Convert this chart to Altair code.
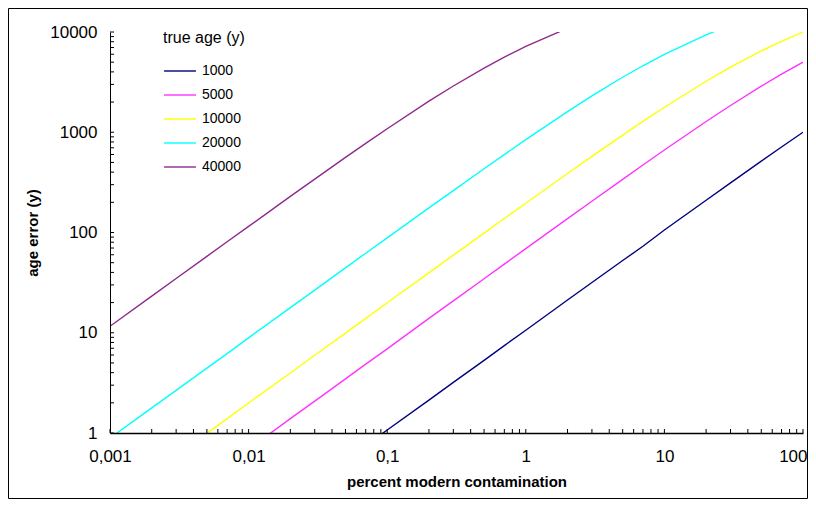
import altair as alt
import pandas as pd

# percent modern contamination (x positions)
pct = [0.0008, 0.001, 0.002, 0.003, 0.005, 0.007, 0.01, 0.02, 0.03, 0.05, 0.07,
       0.1, 0.2, 0.3, 0.5, 0.7, 1, 2, 3, 5, 7, 10, 20, 30, 50, 70, 100]

ages = ["1000", "5000", "10000", "20000", "40000"]
colors = ["#000080", "#FF33FF", "#FFFF00", "#00FFFF", "#8E2A8C"]

# age error (y), each series starting at the given pct index
err_1000 = [0.53, 0.75, 1.07, 2.13, 3.2, 5.3, 7.45, 10.6, 21.2, 31.7, 52.5, 73, 106,
            210, 313, 515, 713, 1000]
err_5000 = [0.69, 1.39, 2.08, 3.47, 4.86, 6.9, 13.9, 20.8, 34.6, 48.4, 69, 137.5, 205,
            339, 471, 665, 1280, 1850, 2883, 3798, 5000]
err_10000 = [0.6, 0.99, 1.39, 1.99, 3.97, 5.96, 9.9, 13.9, 19.9, 39.6, 59.4, 98.7, 138,
             196, 388, 575, 936, 1282, 1775, 3228, 4458, 6465, 8070, 10000]
err_20000 = [0.71, 0.89, 1.78, 2.66, 4.44, 6.2, 8.9, 17.8, 26.6, 44.4, 62.1, 88.3, 176,
             262, 432, 599, 843, 1605, 2301, 3536, 4605, 5982, 9373, 11750]
err_40000 = [11.6, 23.2, 34.8, 57.8, 80.9, 115, 229, 341, 561, 774, 1084, 2040, 2893,
             4369, 5615, 7183, 10913]
starts = [9, 6, 3, 0, 1]
series = [err_1000, err_5000, err_10000, err_20000, err_40000]

x_major = [0.001, 0.01, 0.1, 1, 10, 100]
y_major = [1, 10, 100, 1000, 10000]
minor_mult = [2, 3, 4, 5, 6, 7, 8, 9]

rows = []
for age, start, vals in zip(ages, starts, series):
    for i, v in enumerate(vals):
        rows.append({"pct": pct[start + i], "err": v, "age": age, "order": i})
df = pd.DataFrame(rows)

x_minor = [m * d for d in x_major[:-1] for m in minor_mult]
y_minor = [m * d for d in y_major[:-1] for m in minor_mult]
xt = pd.DataFrame({"pct": x_major + x_minor})
yt = pd.DataFrame({"err": y_major + y_minor})

W, H = 693, 401
PL, PT, PR, PB = 102, 24, 5, 66

xscale = alt.Scale(type="log", domain=[0.001, 100], nice=False)
yscale = alt.Scale(type="log", domain=[1, 10000], nice=False)

xaxis = alt.Axis(values=x_major, title="percent modern contamination",
                 labelExpr="datum.value < 1 ? replace(toString(datum.value), '.', ',') : toString(datum.value)",
                 ticks=False, tickSize=0, grid=False, labelPadding=15,
                 labelFontSize=17, labelFontWeight="normal",
                 titleFontSize=15, titleFontWeight="bold",
                 titlePadding=10, domainColor="black", domainWidth=1.5,
                 labelColor="black", titleColor="black", labelFlush=False,
                 labelAlign={"condition": {"test": "datum.value == 100", "value": "right"},
                             "value": "center"},
                 labelOffset={"condition": {"test": "datum.value == 100", "value": 4},
                              "value": 0},
                 zindex=1)
yaxis = alt.Axis(values=y_major, title="age error (y)", format="d",
                 ticks=False, tickSize=0, grid=False, labelPadding=13,
                 labelFontSize=17, labelFontWeight="normal",
                 titleFontSize=15, titleFontWeight="bold",
                 titlePadding=9, domainColor="black", domainWidth=1,
                 labelColor="black", titleColor="black", zindex=1)

frame = alt.Chart(pd.DataFrame({"a": [0]})).mark_rect(
    fillOpacity=0, stroke="black", strokeWidth=1, clip=False
).encode(
    x=alt.value(-PL + 0.5), x2=alt.value(W + PR - 0.5),
    y=alt.value(-PT + 0.5), y2=alt.value(H + PB - 0.5),
)

lines = alt.Chart(df).mark_line(strokeWidth=1.4, clip=True).encode(
    x=alt.X("pct:Q", scale=xscale, axis=xaxis),
    y=alt.Y("err:Q", scale=yscale, axis=yaxis),
    color=alt.Color("age:N", scale=alt.Scale(domain=ages, range=colors),
                    legend=alt.Legend(title="true age (y)", orient="none",
                                      legendX=53, legendY=-2,
                                      titleFontSize=16, titleFontWeight="normal",
                                      titleColor="black", labelColor="black",
                                      labelFontSize=14, symbolType="M-1.33,0H1.33",
                                      symbolSize=576, symbolStrokeWidth=1.4,
                                      rowPadding=4, titlePadding=12, labelOffset=9,
                                      symbolOffset=4, padding=0)),
    order="order:Q",
)

xticks = alt.Chart(xt).mark_rule(color="black", strokeWidth=1).encode(
    x=alt.X("pct:Q", scale=xscale, axis=xaxis),
    y=alt.value(H),
    y2=alt.YValue(H - 4),
)
yticks = alt.Chart(yt).mark_rule(color="black", strokeWidth=1).encode(
    y=alt.Y("err:Q", scale=yscale, axis=yaxis),
    x=alt.value(0),
    x2=alt.XValue(4),
)

chart = alt.layer(frame, lines, xticks, yticks).properties(
    width=W, height=H,
    autosize=alt.AutoSizeParams(type="none"),
    padding={"left": PL, "top": PT, "right": PR, "bottom": PB},
    background="white",
).configure(
    font="Liberation Sans",
    view=alt.ViewConfig(stroke="transparent", strokeWidth=0),
)

chart.save("out.html", embed_options={"renderer": "svg", "actions": False})
